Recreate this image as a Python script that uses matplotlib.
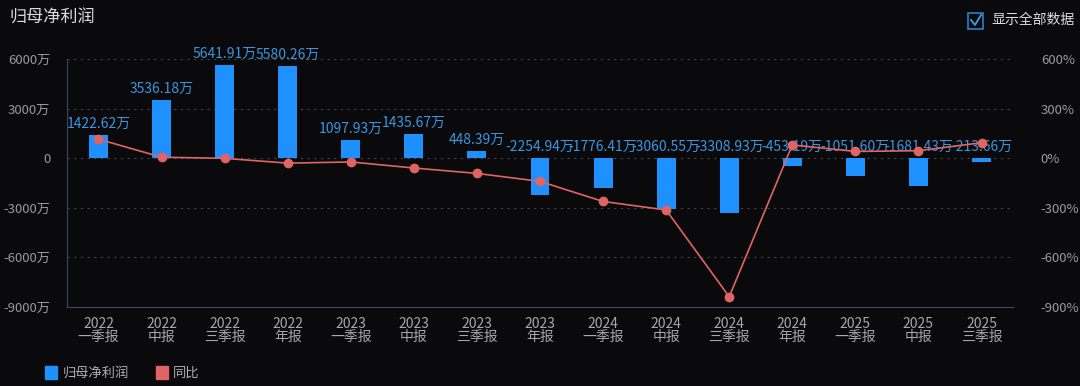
import matplotlib
matplotlib.use("Agg")
import matplotlib.pyplot as plt
from matplotlib.patches import Rectangle

plt.rcParams['font.family'] = ['Noto Sans CJK SC', 'DejaVu Sans']
plt.rcParams['axes.unicode_minus'] = False

# ── data ──────────────────────────────────────────────
years = ["2022", "2022", "2022", "2022", "2023", "2023", "2023", "2023",
         "2024", "2024", "2024", "2024", "2025", "2025", "2025"]
periods = ["一季报", "中报", "三季报", "年报", "一季报", "中报", "三季报", "年报",
           "一季报", "中报", "三季报", "年报", "一季报", "中报", "三季报"]
profit = [1422.62, 3536.18, 5641.91, 5580.26, 1097.93, 1435.67, 448.39, -2254.94,
          -1776.41, -3060.55, -3308.93, -453.19, -1051.60, -1681.43, -213.66]
yoy = [115.0, 6.0, -1.0, -30.0, -22.8, -59.4, -92.1, -140.4,
       -261.8, -313.2, -838.0, 79.9, 40.8, 45.1, 93.5]
left_ticks = [-9000, -6000, -3000, 0, 3000, 6000]
right_ticks = [-900, -600, -300, 0, 300, 600]

# ── style ─────────────────────────────────────────────
BG = "#0a0a0c"
BLUE = "#1e90ff"
LABEL_BLUE = "#3a96e0"
RED = "#e06464"
TICK = "#9a9a9a"
GRID = "#444444"
SPINE = "#3b4a5a"

fig = plt.figure(figsize=(10.8, 3.86), dpi=100)
fig.patch.set_facecolor(BG)
ax = fig.add_axes([0.062, 0.2047, 0.876, 0.6425])
ax.set_facecolor(BG)
ax2 = ax.twinx()

x = list(range(len(profit)))
ax.bar(x, profit, width=0.3, color=BLUE, zorder=2)
ax.set_xlim(-0.5, len(profit) - 0.5)
ax.set_ylim(-9000, 6000)
ax.set_yticks(left_ticks)
ax.set_yticklabels(["0" if t == 0 else f"{t}万" for t in left_ticks])
ax.set_xticks(x)
ax.set_xticklabels([f"{y}\n{p}" for y, p in zip(years, periods)],
                   linespacing=0.9)
ax.tick_params(axis="x", colors="#a8a8a8", labelsize=10, length=0, pad=7)
ax.tick_params(axis="y", colors=TICK, labelsize=9.5, length=0, pad=12)
for gy in left_ticks[1:]:
    ax.axhline(gy, color=GRID, lw=0.8, ls=(0, (2, 4)), zorder=1)
for s in ["top", "right"]:
    ax.spines[s].set_visible(False)
ax.spines["left"].set_color(SPINE)
ax.spines["bottom"].set_color(SPINE)

# value labels sit on the top of positive bars, on the zero line for negatives
for xi, v in zip(x, profit):
    ax.annotate(f"{v:.2f}万", (xi, max(v, 0)), xytext=(0, 3),
                textcoords="offset points", ha="center", va="bottom",
                color=LABEL_BLUE, fontsize=10, zorder=3)

ax2.plot(x, yoy, color=RED, lw=1.2, marker="o", markersize=6, zorder=4)
ax2.set_ylim(-900, 600)
ax2.set_yticks(right_ticks)
ax2.set_yticklabels([f"{t}%" for t in right_ticks])
ax2.tick_params(axis="y", colors=TICK, labelsize=9.5, length=0, pad=20)
for s in ["top", "right", "left", "bottom"]:
    ax2.spines[s].set_visible(False)

# title
fig.text(0.009, 0.955, "归母净利润", color="#dcdcdc", fontsize=12.3, va="center")

# checkbox
fig.patches.append(Rectangle((968 / 1080, 1 - 29 / 386), 15 / 1080, 16 / 386,
                             transform=fig.transFigure, fill=False,
                             edgecolor="#2a7fd0", lw=1.2))
fig.lines.append(plt.Line2D([971 / 1080, 975 / 1080, 981 / 1080],
                            [1 - 20 / 386, 1 - 25 / 386, 1 - 15 / 386],
                            transform=fig.transFigure, color="#3a96e0", lw=1.4))
fig.text(991 / 1080, 1 - 20 / 386, "显示全部数据", color="#dcdcdc",
         fontsize=10, va="center")

# legend
fig.patches.append(Rectangle((45 / 1080, 1 - 379 / 386), 12 / 1080, 13 / 386,
                             transform=fig.transFigure, color=BLUE))
fig.text(63 / 1080, 1 - 373 / 386, "归母净利润", color="#b0b0b0",
         fontsize=9.5, va="center")
fig.patches.append(Rectangle((156 / 1080, 1 - 379 / 386), 12 / 1080, 13 / 386,
                             transform=fig.transFigure, color=RED))
fig.text(173 / 1080, 1 - 373 / 386, "同比", color="#b0b0b0",
         fontsize=9.5, va="center")

fig.savefig("out.png", dpi=100, facecolor=BG)
